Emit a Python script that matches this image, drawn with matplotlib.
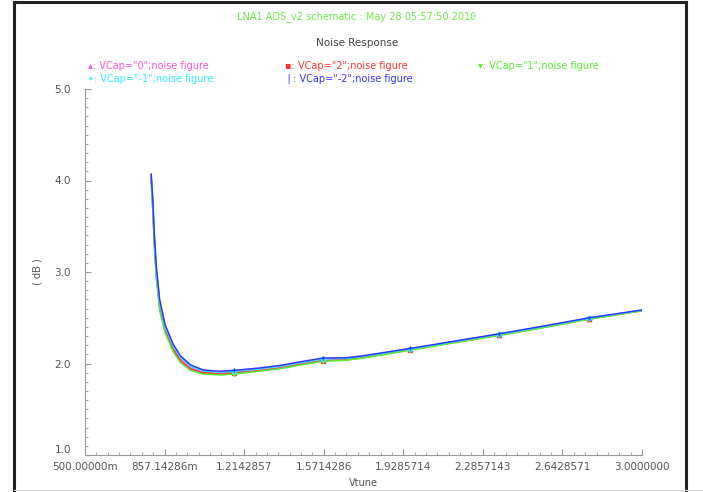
import numpy as np
import matplotlib.pyplot as plt
from matplotlib.lines import Line2D
from matplotlib.ticker import MultipleLocator, AutoMinorLocator, FixedLocator

# noise figure vs Vtune, one trace per VCap setting
vtune = [0.797, 0.805, 0.811, 0.820, 0.835, 0.860, 0.896, 0.928, 0.973, 1.03, 1.10, 1.17,
         1.28, 1.38, 1.47, 1.57, 1.67, 1.75, 1.96, 2.16, 2.36, 2.56, 2.76, 3.00]
nf_vcap0 = [4.05, 3.70, 3.36, 3.00, 2.64, 2.37, 2.17, 2.05, 1.955, 1.905, 1.895, 1.905,
            1.93, 1.96, 2.00, 2.04, 2.045, 2.07, 2.155, 2.235, 2.315, 2.40, 2.49, 2.58]
nf_vcap2 = [4.03, 3.66, 3.32, 2.96, 2.61, 2.35, 2.15, 2.03, 1.94, 1.895, 1.885, 1.895,
            1.92, 1.95, 1.99, 2.03, 2.04, 2.065, 2.15, 2.23, 2.31, 2.395, 2.485, 2.578]
nf_vcap1 = [4.02, 3.64, 3.29, 2.93, 2.58, 2.33, 2.13, 2.01, 1.925, 1.885, 1.875, 1.885,
            1.915, 1.945, 1.985, 2.025, 2.035, 2.06, 2.145, 2.228, 2.307, 2.393, 2.483, 2.576]
nf_vcapm1 = [4.06, 3.73, 3.39, 3.03, 2.67, 2.40, 2.19, 2.07, 1.97, 1.92, 1.905, 1.915,
             1.94, 1.97, 2.01, 2.05, 2.055, 2.078, 2.16, 2.24, 2.32, 2.405, 2.494, 2.582]
nf_vcapm2 = [4.07, 3.76, 3.42, 3.06, 2.70, 2.42, 2.21, 2.085, 1.985, 1.93, 1.915, 1.925,
             1.95, 1.98, 2.02, 2.06, 2.062, 2.085, 2.165, 2.245, 2.325, 2.41, 2.498, 2.585]
marker_idx = [11, 15, 18, 20, 22]

xticks = [0.5, 0.85714286, 1.2142857, 1.5714286, 1.9285714, 2.2857143, 2.6428571, 3.0]
xticklabels = ['500.00000m', '857.14286m', '1.2142857', '1.5714286', '1.9285714',
               '2.2857143', '2.6428571', '3.0000000']
yticks = [1.0, 2.0, 3.0, 4.0, 5.0]
yticklabels = ['1.0', '2.0', '3.0', '4.0', '5.0']

traces = [
    ('VCap="0";noise figure', nf_vcap0, '#ff55cc', '^', '\u25b4'),
    ('VCap="2";noise figure', nf_vcap2, '#ff3333', 's', '\u25aa'),
    ('VCap="1";noise figure', nf_vcap1, '#55ee33', 'v', '\u25be'),
    ('VCap="-1";noise figure', nf_vcapm1, '#33eeff', 'o', '\u2022'),
    ('VCap="-2";noise figure', nf_vcapm2, '#3333ff', '|', '\u2758'),
]

W, H = 703, 492
fig = plt.figure(figsize=(W / 100, H / 100), dpi=100)
ax = fig.add_axes([85 / W, 1 - 455 / H, (642 - 85) / W, (455 - 89) / H])

for name, vals, col, mk, sym in traces:
    ax.plot(vtune, vals, color=col, lw=1.1, marker=mk, markersize=3,
            markevery=marker_idx, mfc=col, mec=col)

ax.set_xlim(0.5, 3.0)
ax.set_ylim(1.0, 5.0)
ax.xaxis.set_major_locator(FixedLocator(xticks))
ax.set_xticklabels(xticklabels)
ax.xaxis.set_minor_locator(AutoMinorLocator(7))
ax.yaxis.set_major_locator(FixedLocator(yticks))
ax.set_yticklabels(yticklabels)
ax.yaxis.set_minor_locator(MultipleLocator(0.1))

for side in ['top', 'right']:
    ax.spines[side].set_visible(False)
for side in ['left', 'bottom']:
    ax.spines[side].set_color('#999999')
    ax.spines[side].set_linewidth(0.8)
ax.tick_params(which='both', direction='in', colors='#999999', labelcolor='#555555',
               labelsize=7.5)
ax.tick_params(which='major', length=4, width=0.8)
ax.tick_params(which='minor', length=2, width=0.6)
ax.tick_params(axis='y', pad=10)
ax.tick_params(axis='x', pad=5)
# lift the bottom y label a little so it clears the first x label
ax.get_yticklabels()[0].set_verticalalignment('bottom')

ax.set_xlabel('Vtune', fontsize=7, color='#555555', labelpad=4)
fig.text(37 / W, 1 - 272 / H, '( dB )', rotation=90, ha='center', va='center',
         fontsize=7, color='#555555')

# headers
fig.text(357 / W, 1 - 17 / H, 'LNA1 ADS_v2 schematic : May 28 05:57:50 2010',
         ha='center', va='center', fontsize=7, color='#66ee44')
fig.text(357 / W, 1 - 43 / H, 'Noise Response', ha='center', va='center',
         fontsize=7.5, color='#444444')

# trace labels above the plot
label_pos = [(88, 66), (285, 66), (478, 66), (88, 79), (285, 79)]
for (name, vals, col, mk, sym), (lx, ly) in zip(traces, label_pos):
    fig.text(lx / W, 1 - ly / H, sym + ': ' + name, ha='left', va='center',
             fontsize=7, color=col)

# page frame
frame = dict(color='#222222', lw=2.2, transform=fig.transFigure)
fig.add_artist(Line2D([14 / W, 14 / W], [0, 1 - 2 / H], **frame))
fig.add_artist(Line2D([686 / W, 686 / W], [0, 1 - 2 / H], **frame))
fig.add_artist(Line2D([14 / W, 686 / W], [1 - 2 / H, 1 - 2 / H], **frame))
fig.add_artist(Line2D([14 / W, 703 / W], [1 - 490 / H, 1 - 490 / H],
                      color='#dddddd', lw=0.8, transform=fig.transFigure))

fig.savefig('out.png', dpi=100)
